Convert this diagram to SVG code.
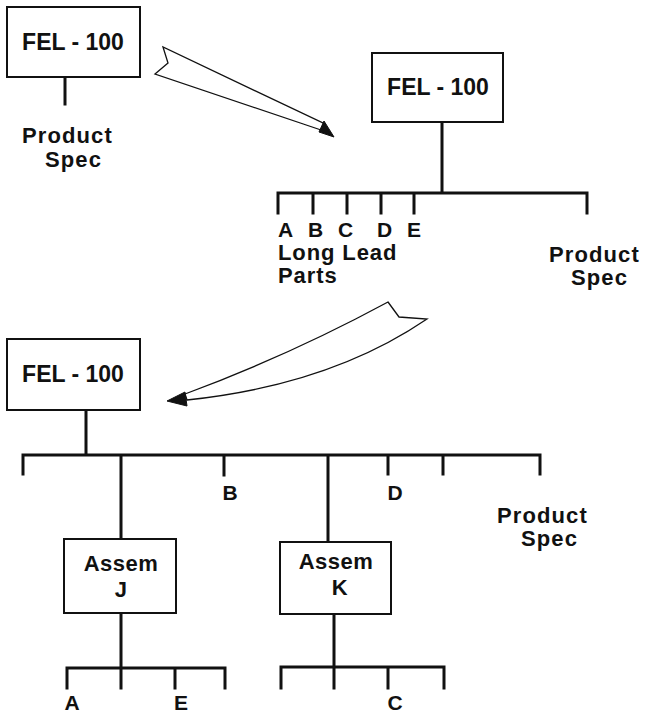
<svg xmlns="http://www.w3.org/2000/svg" width="648" height="716" viewBox="0 0 648 716">
<style>
.box{fill:#fff;stroke:#111;stroke-width:2}
.t{font-family:"Liberation Sans",Arial,sans-serif;font-weight:bold;fill:#111}
.fel{font-size:23px}
.asm{font-size:22px;letter-spacing:0.5px}
.lbl{font-size:22px;letter-spacing:1.1px}
.ltr{font-size:21px}
.ln{stroke:#111;stroke-width:3;fill:none;stroke-linecap:square}
.arr{fill:#fff;stroke:#111;stroke-width:1.3;stroke-linejoin:miter}
.head{fill:#111;stroke:#111;stroke-width:1}
</style>
<rect width="648" height="716" fill="#fff"/>
<g id="connectors">
<path class="ln" d="M65 78V104"/>
<path class="ln" d="M442 122V193M278 193H587M278 193V213M313 193V213M347 193V213M381 193V213M414 193V213M587 193V213"/>
<path class="ln" d="M86 410V455M23 455H540M23 455V474M121 455V539M224 455V475M328 455V542M388 455V474M443 455V474M540 455V474"/>
<path class="ln" d="M121 613V668M67 668H225M67 668V688M121 668V688M175 668V688M225 668V688"/>
<path class="ln" d="M334 614V667M281 667H444M281 667V688M334 667V688M388 667V688M444 667V688"/>
</g>
<g id="arrow1">
<path class="arr" d="M163 47L168 63L155 74L324 131L325 124Z"/>
<path class="head" d="M334 137L324 121L319 132Z"/>
</g>
<g id="arrow2">
<path class="arr" d="M388 302L399 317L427 319Q330 385 187 400L185 394Q290 355 388 302Z"/>
<path class="head" d="M167 401L185 392L187 406Z"/>
</g>
<g id="node-fel1">
<rect class="box" x="7" y="7" width="133" height="70"/>
<text class="t fel" x="73" y="50" text-anchor="middle">FEL - 100</text>
</g>
<g id="node-spec1">
<text class="t lbl" x="22" y="143">Product</text>
<text class="t lbl" x="45" y="167">Spec</text>
</g>
<g id="node-fel2">
<rect class="box" x="372" y="53" width="131" height="69"/>
<text class="t fel" x="438" y="95" text-anchor="middle">FEL - 100</text>
</g>
<g id="node-parts2">
<text class="t ltr" x="278" y="237">A</text>
<text class="t ltr" x="308" y="237">B</text>
<text class="t ltr" x="338" y="237">C</text>
<text class="t ltr" x="377" y="237">D</text>
<text class="t ltr" x="407" y="237">E</text>
<text class="t lbl" x="278" y="260" style="letter-spacing:0.9px">Long Lead</text>
<text class="t lbl" x="278" y="283" style="letter-spacing:0.9px">Parts</text>
</g>
<g id="node-spec2">
<text class="t lbl" x="549" y="262">Product</text>
<text class="t lbl" x="571" y="285">Spec</text>
</g>
<g id="node-fel3">
<rect class="box" x="7" y="339" width="133" height="71"/>
<text class="t fel" x="73" y="382" text-anchor="middle">FEL - 100</text>
</g>
<g id="node-b3"><text class="t ltr" x="230" y="500" text-anchor="middle">B</text></g>
<g id="node-d3"><text class="t ltr" x="395" y="500" text-anchor="middle">D</text></g>
<g id="node-spec3">
<text class="t lbl" x="497" y="523">Product</text>
<text class="t lbl" x="521" y="546">Spec</text>
</g>
<g id="node-assemj">
<rect class="box" x="64" y="539" width="112" height="74"/>
<text class="t asm" x="121" y="571" text-anchor="middle">Assem</text>
<text class="t asm" x="121" y="597" text-anchor="middle">J</text>
</g>
<g id="node-assemk">
<rect class="box" x="280" y="542" width="111" height="72"/>
<text class="t asm" x="336" y="569" text-anchor="middle">Assem</text>
<text class="t asm" x="340" y="595" text-anchor="middle">K</text>
</g>
<g id="node-a"><text class="t ltr" x="72" y="710" text-anchor="middle">A</text></g>
<g id="node-e"><text class="t ltr" x="181" y="710" text-anchor="middle">E</text></g>
<g id="node-c"><text class="t ltr" x="395" y="710" text-anchor="middle">C</text></g>
</svg>
